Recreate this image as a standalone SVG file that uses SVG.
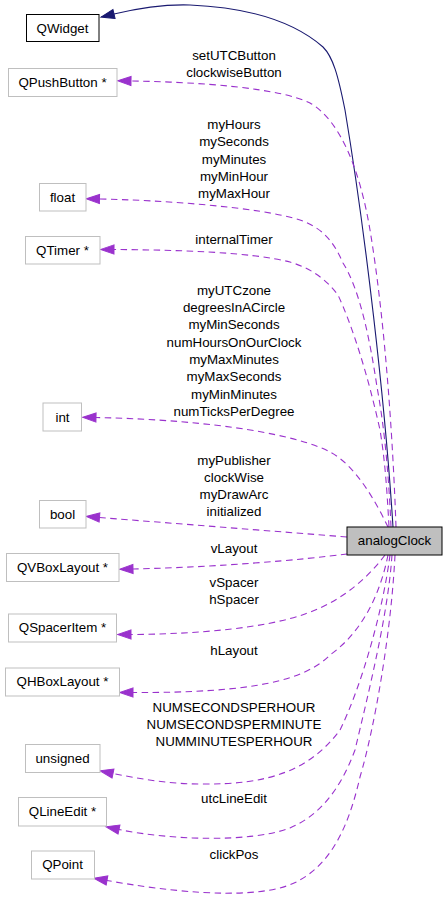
<svg xmlns="http://www.w3.org/2000/svg" width="448" height="902" viewBox="0 0 448 902">
<style>
text{font-family:"Liberation Sans",Arial,Helvetica,sans-serif;font-size:13.33px;fill:#000;text-anchor:middle}
.n rect{fill:#fff;stroke:#bfbfbf;stroke-width:1}
.n.k rect{stroke:#000}
.n.cur rect{fill:#bfbfbf;stroke:#000}
.e{fill:none;stroke:#9a32cd;stroke-width:1.1;stroke-dasharray:6.5,4.5}
.inh{fill:none;stroke:#191970;stroke-width:1.1}
</style>
<defs>
<marker id="ap" markerUnits="userSpaceOnUse" orient="auto" refX="0" refY="0" markerWidth="20" markerHeight="20" overflow="visible"><path d="M0,-4.6 L13.3,0 L0,4.6 z" fill="#9a32cd" stroke="#9a32cd" stroke-width="1"/></marker>
<marker id="ab" markerUnits="userSpaceOnUse" orient="auto" refX="0" refY="0" markerWidth="20" markerHeight="20" overflow="visible"><path d="M0,-4.6 L13.3,0 L0,4.6 z" fill="#191970" stroke="#191970" stroke-width="1"/></marker>
</defs>
<g id="edges">
<path class="inh" marker-end="url(#ab)" d="M393,527 C385,400 365,230 345,110 C338,75 333,57 323,47 C300,27 260,8 190,5 C160,4 135,9 114,14"/>
<path class="e" marker-end="url(#ap)" d="M396,527 C393,440 385,320 370,230 C360,170 340,120 310,103 C280,88 200,82 131,81"/>
<path class="e" marker-end="url(#ap)" d="M391,527 C389,480 385,430 377,387 C370,340 360,290 343,263 C333,240 322,228 300,220 C260,207 160,200 99.5,199"/>
<path class="e" marker-end="url(#ap)" d="M389,527 C387,490 385,460 380,430 C368,375 352,325 338,295 C325,278 310,268 290,262 C250,252 180,250 114,249.5"/>
<path class="e" marker-end="url(#ap)" d="M388,527 C375,500 355,465 330,452 C300,436 220,420 96,417.5"/>
<path class="e" marker-end="url(#ap)" d="M347,537 L99.5,517.5"/>
<path class="e" marker-end="url(#ap)" d="M347,554 C300,560 220,567 133,569"/>
<path class="e" marker-end="url(#ap)" d="M385,555 C370,575 345,600 305,614 C265,628 200,634 131,634.5"/>
<path class="e" marker-end="url(#ap)" d="M388,555 C380,595 362,632 330,655 C305,680 255,693 133,692.5"/>
<path class="e" marker-end="url(#ap)" d="M390,555 C383,610 362,685 340,730 C310,770 270,785 200,784 C170,784 140,779 113,773.5"/>
<path class="e" marker-end="url(#ap)" d="M392,555 C388,615 368,695 355,750 C340,790 320,815 290,828 C250,843 170,840 119,829.5"/>
<path class="e" marker-end="url(#ap)" d="M395,555 C391,635 374,730 360,777 C350,820 335,860 300,880 C270,898 200,897 107,880.5"/>
</g>
<g id="labels">
<text x="234" y="60">setUTCButton</text>
<text x="234" y="77">clockwiseButton</text>
<text x="234" y="129">myHours</text>
<text x="234" y="146.3">mySeconds</text>
<text x="234" y="163.6">myMinutes</text>
<text x="234" y="180.9">myMinHour</text>
<text x="234" y="198.2">myMaxHour</text>
<text x="234" y="244">internalTimer</text>
<text x="234" y="295">myUTCzone</text>
<text x="234" y="312.2">degreesInACircle</text>
<text x="234" y="329.4">myMinSeconds</text>
<text x="234" y="346.7">numHoursOnOurClock</text>
<text x="234" y="364">myMaxMinutes</text>
<text x="234" y="381.2">myMaxSeconds</text>
<text x="234" y="398.5">myMinMinutes</text>
<text x="234" y="415.7">numTicksPerDegree</text>
<text x="234" y="465">myPublisher</text>
<text x="234" y="482">clockWise</text>
<text x="234" y="499">myDrawArc</text>
<text x="234" y="516">initialized</text>
<text x="234" y="552.7">vLayout</text>
<text x="234" y="586.7">vSpacer</text>
<text x="234" y="603.5">hSpacer</text>
<text x="234" y="655">hLayout</text>
<text x="234" y="711.7">NUMSECONDSPERHOUR</text>
<text x="234" y="728.7">NUMSECONDSPERMINUTE</text>
<text x="234" y="745.7">NUMMINUTESPERHOUR</text>
<text x="234" y="803.3">utcLineEdit</text>
<text x="234" y="859">clickPos</text>
</g>
<g id="QWidget" class="n k"><rect x="26.5" y="14.5" width="72.5" height="27"/><text x="62.5" y="32.5">QWidget</text></g>
<g id="QPushButton" class="n"><rect x="8.5" y="68.5" width="108.5" height="28"/><text x="62.5" y="86.5">QPushButton *</text></g>
<g id="float" class="n"><rect x="39.5" y="183.5" width="46.5" height="27.5"/><text x="62.5" y="201.5">float</text></g>
<g id="QTimer" class="n"><rect x="25.5" y="236.5" width="74.5" height="27.5"/><text x="62.5" y="254.5">QTimer *</text></g>
<g id="int" class="n"><rect x="43" y="403" width="38.5" height="28"/><text x="62.5" y="421.5">int</text></g>
<g id="bool" class="n"><rect x="39.5" y="500.5" width="46.5" height="27.5"/><text x="62.5" y="518.5">bool</text></g>
<g id="analogClock" class="n cur"><rect x="347" y="527" width="95" height="28"/><text x="394.5" y="545.2">analogClock</text></g>
<g id="QVBoxLayout" class="n"><rect x="6.5" y="553.5" width="112.5" height="28"/><text x="62.5" y="571.7">QVBoxLayout *</text></g>
<g id="QSpacerItem" class="n"><rect x="8.5" y="614" width="108" height="28"/><text x="62.5" y="632.2">QSpacerItem *</text></g>
<g id="QHBoxLayout" class="n"><rect x="5.5" y="668" width="114" height="28"/><text x="62.5" y="686.2">QHBoxLayout *</text></g>
<g id="unsigned" class="n"><rect x="25.5" y="744.5" width="74.5" height="28"/><text x="62.5" y="762.5">unsigned</text></g>
<g id="QLineEdit" class="n"><rect x="18.5" y="797.5" width="88" height="28.5"/><text x="62.5" y="815.8">QLineEdit *</text></g>
<g id="QPoint" class="n"><rect x="31.5" y="851" width="63" height="28"/><text x="62.5" y="869.2">QPoint</text></g>
</svg>
